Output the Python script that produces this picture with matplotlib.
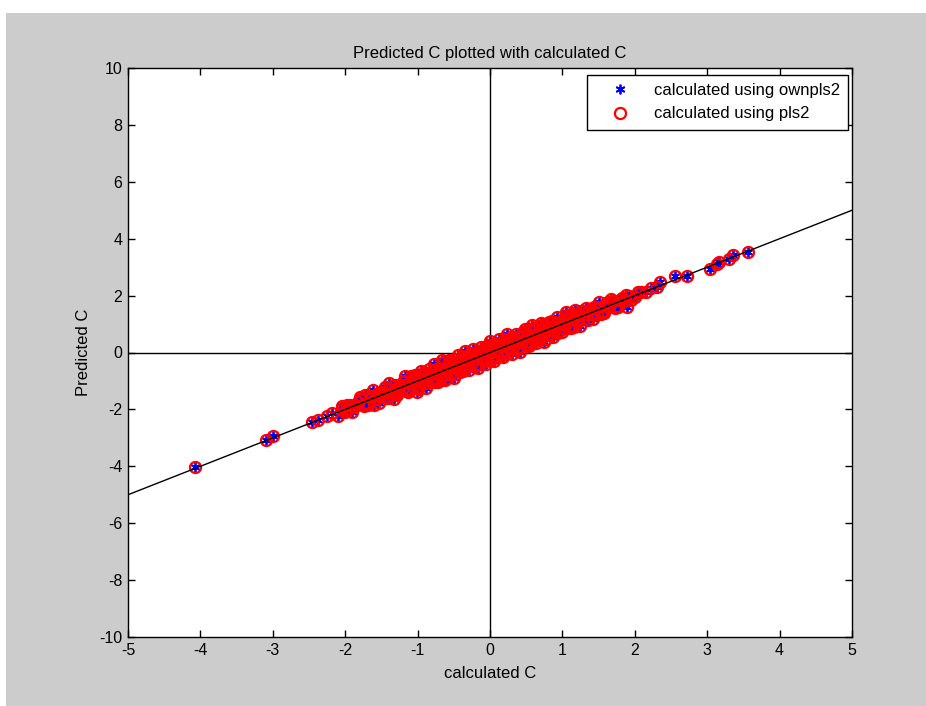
import matplotlib
matplotlib.use("Agg")
import matplotlib.pyplot as plt
from matplotlib.patches import Rectangle

plt.rcParams['font.family'] = ['Liberation Sans', 'DejaVu Sans']
plt.rcParams['axes.unicode_minus'] = False

# ---- data ----
calc_x = [
    -4.08, -3.10, -3.00, -2.46, -2.38, -2.25, -2.00, -2.02,
    -2.18, -2.10, -2.05, -1.98, -1.93, -1.90, -1.85, -1.80, -1.76, -1.72,
    -1.68, -1.63, -1.60, -1.55, -1.52, -1.48, -1.45, -1.41, -1.38, -1.35,
    -1.31, -1.28, -1.25, -1.22, -1.19, -1.15, -1.12, -1.09, -1.06, -1.03,
    -1.00, -0.97, -0.94, -0.91, -0.88, -0.85, -0.82, -0.79, -0.76, -0.73,
    -0.70, -0.67, -0.64, -0.61, -0.58, -0.55, -0.52, -0.49, -0.46, -0.43,
    -0.40, -0.37, -0.34, -0.31, -0.28, -0.25, -0.22, -0.19, -0.16, -0.13,
    -0.10, -0.07, -0.04, -0.01, 0.02, 0.05, 0.08, 0.11, 0.14, 0.17,
    0.20, 0.23, 0.26, 0.29, 0.32, 0.35, 0.38, 0.41, 0.44, 0.47,
    0.50, 0.53, 0.56, 0.59, 0.62, 0.65, 0.68, 0.71, 0.74, 0.77,
    0.80, 0.83, 0.86, 0.89, 0.92, 0.95, 0.98, 1.01, 1.04, 1.07,
    1.10, 1.13, 1.16, 1.19, 1.22, 1.25, 1.28, 1.31, 1.34, 1.37,
    1.40, 1.44, 1.48, 1.52, 1.56, 1.60, 1.65, 1.70, 1.75, 1.80,
    1.85, 1.92, 2.00, 2.08, 2.15, 2.22,
    -1.30, -1.20, -1.10, -1.00, -0.92, -0.84, -0.76, -0.68, -0.60, -0.53,
    -0.46, -0.39, -0.33, -0.27, -0.21, -0.15, -0.09, -0.03, 0.03, 0.09,
    0.15, 0.21, 0.27, 0.33, 0.39, 0.46, 0.53, 0.60, 0.68, 0.76,
    0.84, 0.92, 1.00, 1.10, 1.20, 1.30,
    -1.97, -1.88, -1.79, -1.70, -1.62, -1.54, -1.46, -1.39, -1.32, -1.26,
    -1.18, -1.13, -1.07, -1.01, -0.95, -0.89, -0.83, -0.78, -0.72, -0.66,
    -0.62, -0.56, -0.50, -0.44, -0.41, -0.35, -0.29, -0.24, -0.17, -0.12,
    -0.06, 0.00, 0.06, 0.12, 0.18, 0.24, 0.30, 0.36, 0.42, 0.48,
    0.54, 0.58, 0.64, 0.70, 0.75, 0.81, 0.87, 0.93, 0.99, 1.05,
    1.12, 1.18, 1.24, 1.33, 1.42, 1.50, 1.58, 1.67, 1.77, 1.88,
    -1.95, -1.83, -1.74, -1.66, -1.58, -1.50, -1.43, -1.36, -1.29, -1.23,
    -1.16, -1.04, -0.98, -0.90, -0.80, -0.74, -0.65, -0.57, -0.48, -0.42,
    -0.36, -0.26, -0.18, -0.11, -0.05, 0.04, 0.10, 0.16, 0.25, 0.31,
    0.37, 0.45, 0.51, 0.57, 0.66, 0.72, 0.79, 0.85, 0.94, 1.03,
    1.08, 1.15, 1.21, 1.27, 1.36, 1.46, 1.54, 1.63, 1.72, 1.83,
    1.95, 2.05,
    1.89, 2.30, 2.35, 2.55, 2.72, 3.04, 3.13, 3.16, 3.30, 3.36, 3.56,
]
pred_y = [
    -4.04, -3.06, -2.93, -2.43, -2.36, -2.22, -2.08, -1.92,
    -2.13, -2.22, -1.87, -2.03, -1.83, -2.10, -1.83, -1.65, -1.84, -1.50,
    -1.83, -1.56, -1.85, -1.43, -1.52, -1.58, -1.20, -1.59, -1.30, -1.38,
    -1.15, -1.50, -1.14, -1.28, -0.99, -1.28, -1.08, -0.81, -1.23, -0.94,
    -1.30, -0.83, -0.98, -0.67, -1.07, -0.79, -0.93, -0.60, -1.02, -0.72,
    -0.57, -0.81, -0.34, -0.68, -0.41, -0.76, -0.47, -0.51, -0.23, -0.59,
    -0.30, -0.65, -0.19, -0.40, -0.02, -0.37, -0.19, 0.01, -0.39, -0.05,
    -0.15, 0.20, -0.22, 0.11, -0.28, 0.23, 0.02, 0.33, 0.00, 0.24,
    -0.04, 0.37, 0.24, 0.54, 0.15, 0.39, 0.11, 0.57, 0.36, 0.68,
    0.37, 0.62, 0.34, 0.61, 0.81, 0.55, 0.94, 0.52, 0.80, 0.48,
    0.93, 0.79, 1.09, 0.74, 1.02, 0.74, 1.01, 1.19, 0.95, 1.31,
    0.94, 1.20, 0.91, 1.34, 1.19, 1.45, 1.16, 1.36, 1.14, 1.49,
    1.34, 1.61, 1.34, 1.60, 1.46, 1.73, 1.60, 1.80, 1.63, 1.86,
    1.82, 2.00, 1.94, 2.13, 2.11, 2.28,
    -1.45, -1.02, -1.32, -0.88, -1.00, -0.59, -0.94, -0.59, -0.90, -0.33,
    -0.58, -0.11, -0.53, -0.13, -0.47, 0.07, -0.19, 0.27, -0.21, 0.25,
    -0.04, 0.47, 0.16, 0.54, 0.11, 0.58, 0.36, 0.87, 0.59, 0.94,
    0.61, 1.03, 0.86, 1.32, 1.13, 1.45,
    -1.85, -1.90, -1.58, -1.79, -1.32, -1.78, -1.44, -1.06, -1.65, -1.19,
    -0.83, -1.40, -0.88, -1.39, -0.65, -1.24, -0.78, -0.42, -1.03, -0.28,
    -0.98, -0.27, -0.90, -0.10, -0.70, 0.05, -0.63, 0.13, -0.55, 0.19,
    -0.41, 0.39, -0.31, 0.48, -0.15, 0.64, -0.06, 0.66, 0.03, 0.83,
    0.22, 0.96, 0.34, 1.03, 0.38, 1.08, 0.53, 1.25, 0.71, 1.41,
    0.87, 1.48, 0.93, 1.57, 1.16, 1.78, 1.38, 1.89, 1.59, 2.03,
    -1.99, -1.75, -1.87, -1.52, -1.64, -1.39, -1.59, -1.19, -1.39, -1.14,
    -1.36, -0.80, -1.20, -0.72, -1.04, -0.59, -0.84, -0.35, -0.74, -0.28,
    -0.57, -0.01, -0.45, 0.09, -0.29, 0.30, -0.13, 0.37, -0.02, 0.55,
    0.17, 0.72, 0.26, 0.74, 0.44, 0.97, 0.61, 1.08, 0.68, 1.19,
    0.87, 1.39, 1.06, 1.46, 1.13, 1.61, 1.37, 1.76, 1.58, 1.93,
    1.86, 2.12,
    1.60, 2.30, 2.48, 2.70, 2.69, 2.95, 3.10, 3.18, 3.28, 3.42, 3.53,
]
fit_x = [-5, 5]
fit_y = [-5, 5]

x_ticks = [-5, -4, -3, -2, -1, 0, 1, 2, 3, 4, 5]
y_ticks = [-10, -8, -6, -4, -2, 0, 2, 4, 6, 8, 10]

W, H = 926, 706
fig = plt.figure(figsize=(W / 100, H / 100), dpi=100, facecolor='white')
fig.patches.append(Rectangle((6 / W, 0), 1 - 6 / W, 1 - 13 / H, transform=fig.transFigure,
                             facecolor='#cccccc', edgecolor='none', zorder=-10))

ax = fig.add_axes([128 / W, 1 - 637 / H, (852 - 128) / W, (637 - 68) / H])
ax.set_facecolor('white')

asterisk = (6, 2, 0)
ax.plot(calc_x, pred_y, linestyle='none', marker=asterisk, color='blue', markersize=7,
        markeredgewidth=1.3, label='calculated using ownpls2', zorder=3)
ax.plot(calc_x, pred_y, linestyle='none', marker='o', markerfacecolor='none',
        markeredgecolor='red', markersize=8, markeredgewidth=1.6,
        label='calculated using pls2', zorder=4)
ax.plot(fit_x, fit_y, color='black', linewidth=1.0, zorder=5)
ax.axhline(0, color='black', linewidth=1.0, zorder=2)
ax.axvline(0, color='black', linewidth=1.0, zorder=2)

ax.set_xlim(-5, 5)
ax.set_ylim(-10, 10)
ax.set_xticks(x_ticks)
ax.set_yticks(y_ticks)
ax.tick_params(direction='in', top=True, right=True, length=5, width=1,
               labelsize=11.5, colors='black', pad=4)
for s in ax.spines.values():
    s.set_linewidth(1.0)
    s.set_color('black')

ax.set_title('Predicted C plotted with calculated C', fontsize=12, pad=7)
ax.set_xlabel('calculated C', fontsize=12, labelpad=6)
ax.set_ylabel('Predicted C', fontsize=12, labelpad=6)

leg = ax.legend(loc='upper right', bbox_to_anchor=(0.9945, 0.988), fontsize=12,
                frameon=True, fancybox=False, borderpad=0.5, handletextpad=0.5,
                handlelength=3.0, borderaxespad=0.0, labelspacing=0.5)
leg.get_frame().set_edgecolor('black')
leg.get_frame().set_linewidth(1.0)
leg.get_frame().set_alpha(1)

fig.savefig('out.png', dpi=100, facecolor=fig.get_facecolor())
